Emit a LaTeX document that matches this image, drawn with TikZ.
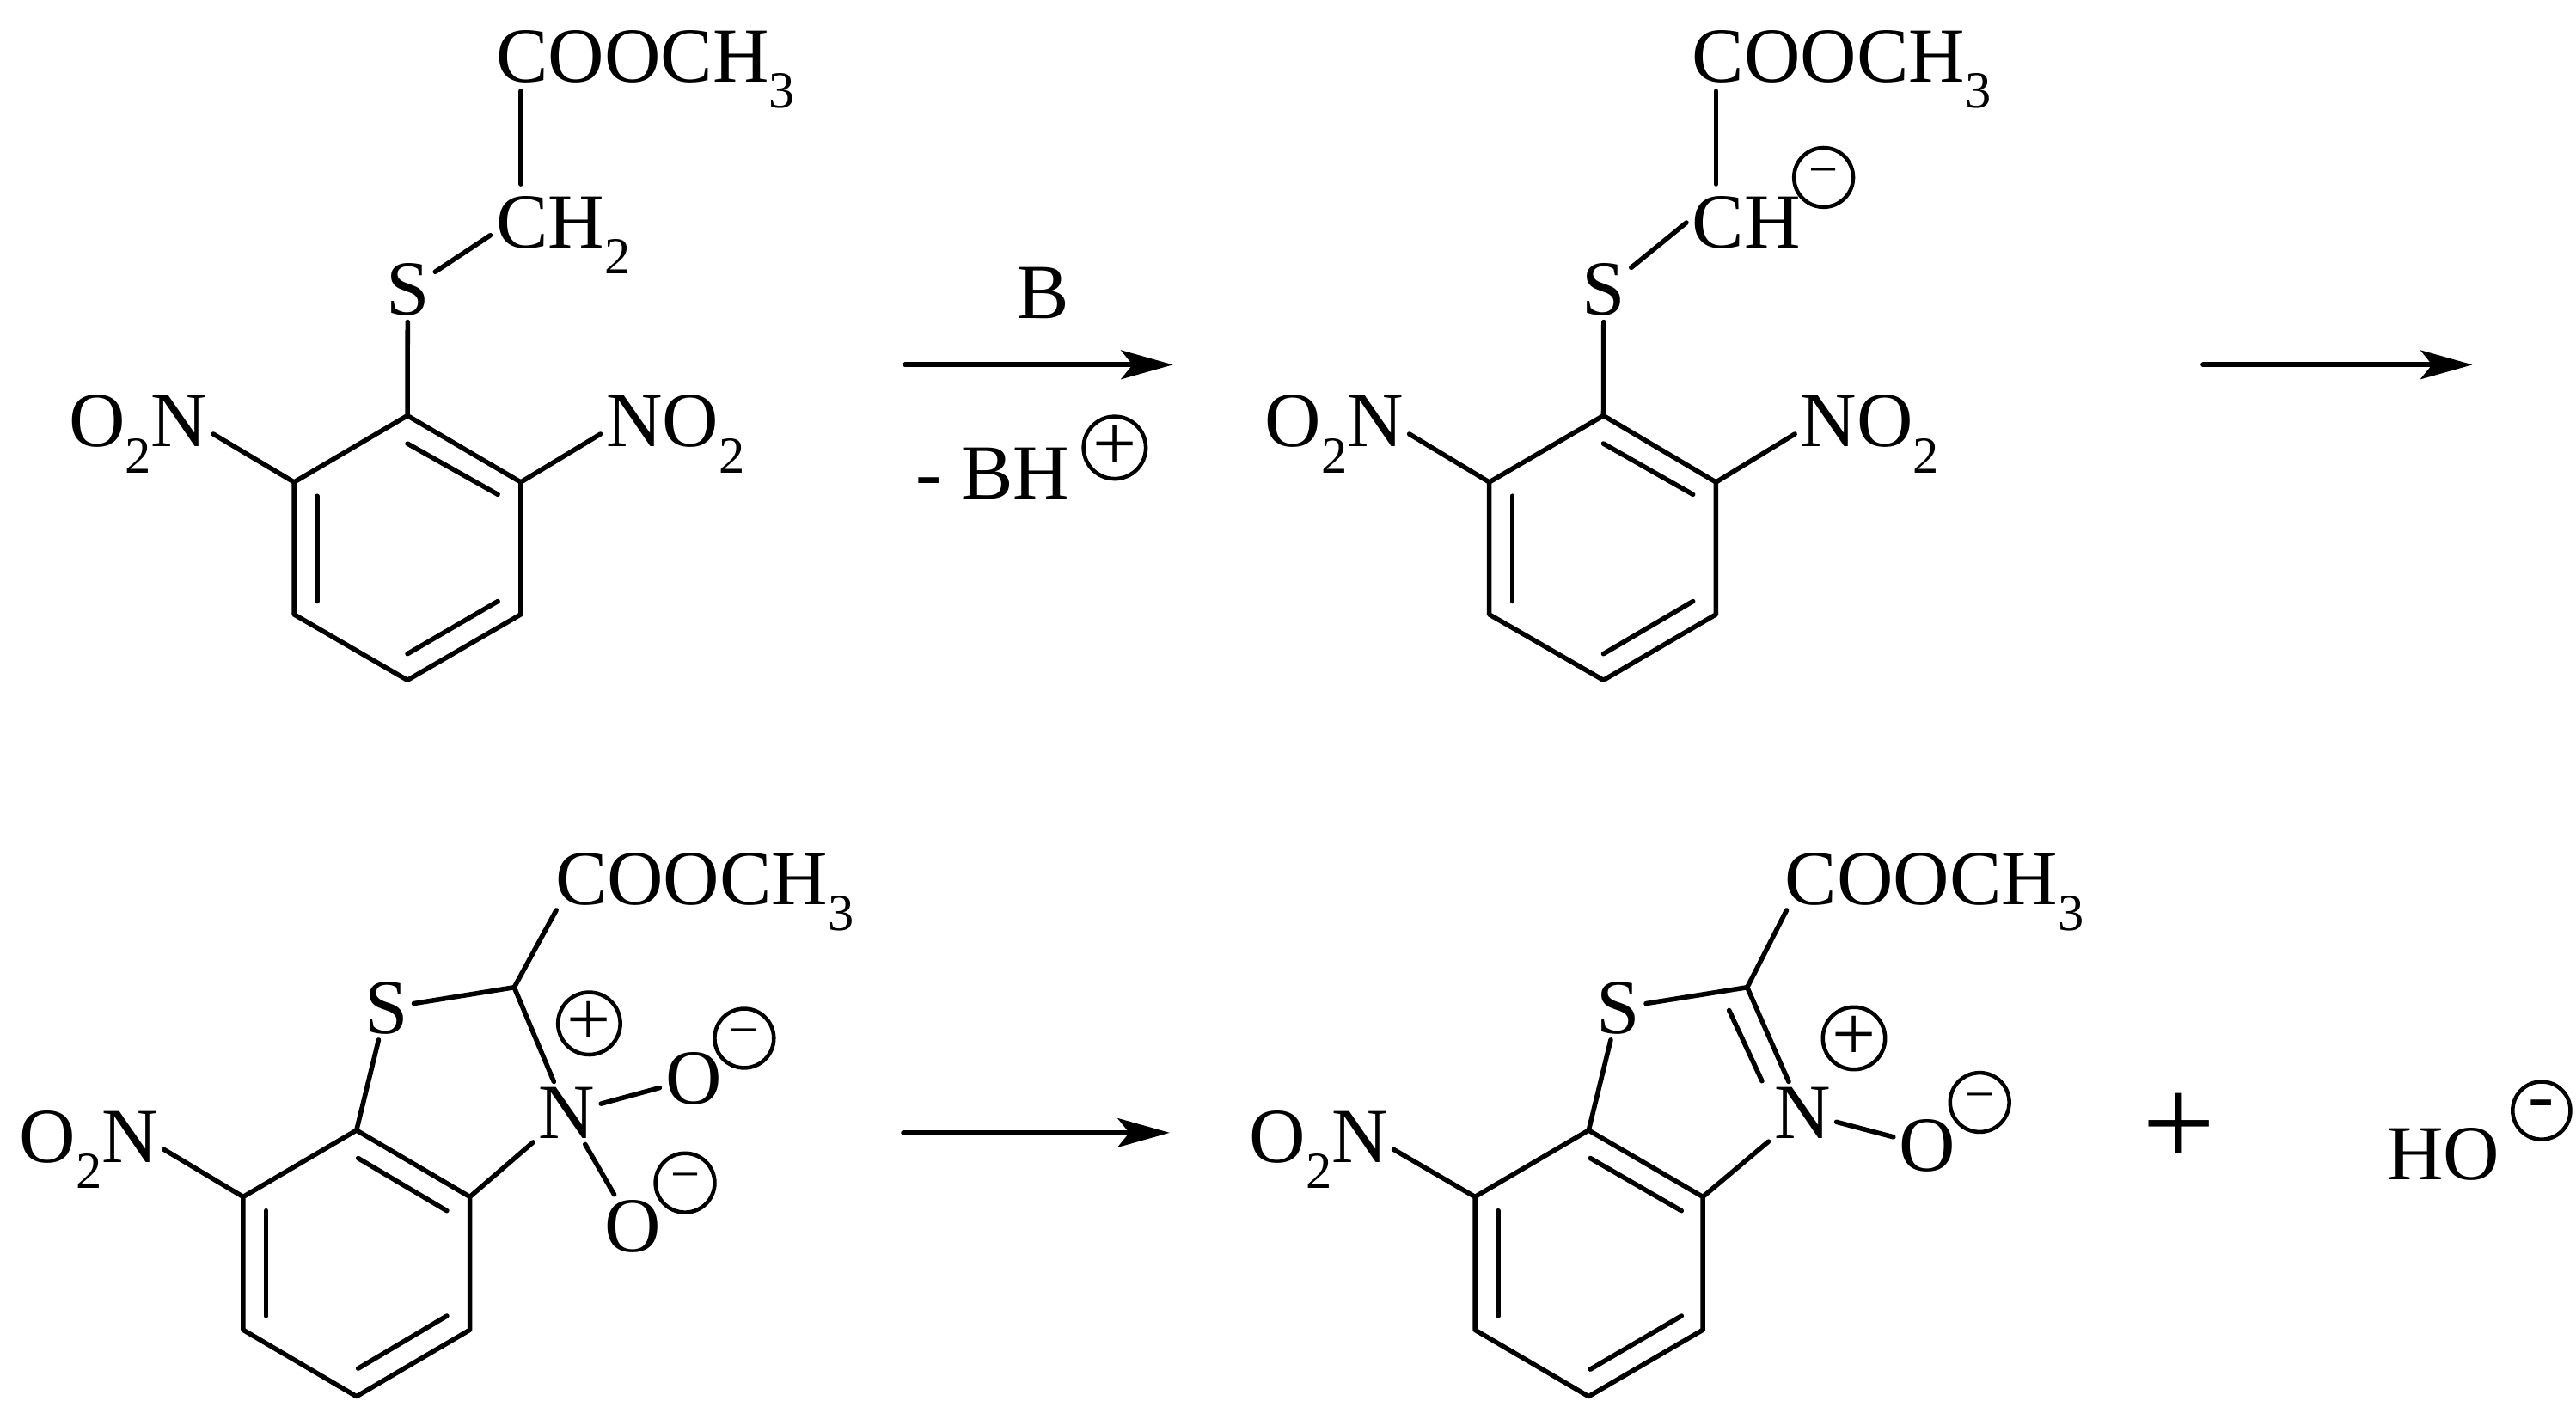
\documentclass[tikz,border=0pt]{standalone}
\usepackage{fontspec}
\setmainfont{Liberation Serif}
\usetikzlibrary{arrows.meta}
\newcommand{\lowdigit}[1]{\raisebox{-9pt}{\fontsize{18}{20}\selectfont #1}}
\tikzset{
  atom/.style={anchor=base west,inner sep=0pt,outer sep=2pt,xshift=-2pt,font=\fontsize{27}{30}\selectfont},
  chg/.style={circle,draw,line width=1.35pt,inner sep=0pt,minimum size=20.5pt,font=\fontsize{27}{30}\selectfont},
  chgm/.style={chg,font=\fontsize{18}{20}\selectfont},
  bond/.style={line width=1.65pt},
  react/.style={line width=1.8pt,-{Stealth[length=18pt,width=10pt,inset=4pt]}}
}
\begin{document}
\begin{tikzpicture}[line cap=round,line join=round,x=0.02cm,y=-0.02cm]
\useasboundingbox (0,0) rectangle (1568,852.3);
% first molecule
\coordinate (a1) at (248,253);
\coordinate (a2) at (317,293.5);
\coordinate (a3) at (317,374);
\coordinate (a4) at (248,414);
\coordinate (a5) at (179,374);
\coordinate (a6) at (179,293.5);
\coordinate (acoo) at (317,55.5);
\coordinate (ach) at (317,112);
\node[atom] (coa) at (302,50) {COOCH\lowdigit{3}};
\node[atom] (cha) at (302,151) {CH\lowdigit{2}};
\node[atom] (sa) at (235,192) {S};
\node[atom] (lna) at (42,272) {O\lowdigit{2}N};
\node[atom] (rna) at (369,272) {NO\lowdigit{2}};
\draw [bond] (a1)--(a2)--(a3)--(a4)--(a5)--(a6)--cycle;
\draw [bond] (248,270)--(303,301);
\draw [bond] (303,366)--(248,398);
\draw [bond] (193,302)--(193,366);
\draw [bond] (a1)--(sa);
\draw [bond] (sa)--(cha.west);
\draw [bond] (ach)--(acoo);
\draw [bond] (a6)--(lna.east);
\draw [bond] (a2)--(rna.west);
% first arrow
\coordinate (r1a) at (551,222);
\coordinate (r1b) at (714,222);
\draw [react] (r1a)--(r1b);
\node[atom] (ba) at (619,194) {B};
\node[atom] (bh) at (557.5,303.5) {- BH};
\node[chg] (bhp) at (678.5,272.5) {+};
% second molecule
\coordinate (b1) at (976,253);
\coordinate (b2) at (1044.5,293.5);
\coordinate (b3) at (1044.5,374);
\coordinate (b4) at (976,414);
\coordinate (b5) at (906.5,374);
\coordinate (b6) at (906.5,293.5);
\coordinate (bcoo) at (1044.5,55.5);
\coordinate (bch) at (1044.5,112);
\node[atom] (cob) at (1030,50) {COOCH\lowdigit{3}};
\node[atom] (chb) at (1030,151) {CH};
\node[chgm] (chbm) at (1110,108) {−};
\node[atom] (sb) at (963,192) {S};
\node[atom] (lnb) at (770,272) {O\lowdigit{2}N};
\node[atom] (rnb) at (1096,272) {NO\lowdigit{2}};
\draw [bond] (b1)--(b2)--(b3)--(b4)--(b5)--(b6)--cycle;
\draw [bond] (976,270)--(1030.5,301);
\draw [bond] (1030.5,366)--(976,398);
\draw [bond] (920.5,302)--(920.5,366);
\draw [bond] (b1)--(sb);
\draw [bond] (sb)--(chb.west);
\draw [bond] (bch)--(bcoo);
\draw [bond] (b6)--(lnb.east);
\draw [bond] (b2)--(rnb.west);
% second arrow
\coordinate (r2a) at (1341,222);
\coordinate (r2b) at (1505,222);
\draw [react] (r2a)--(r2b);
% third molecule
\coordinate (c1) at (217,688);
\coordinate (c2) at (286,728.5);
\coordinate (c3) at (286,809.5);
\coordinate (c4) at (217,850);
\coordinate (c5) at (148,809.5);
\coordinate (c6) at (148,728.5);
\coordinate (c7) at (313,601);
\coordinate (ccoo) at (338.6,554);
\node[atom] (coc) at (338,550.5) {COOCH\lowdigit{3}};
\node[atom] (sc) at (222,629) {S};
\node[atom] (nc) at (328,693) {N};
\node[atom] (oc) at (405,672) {O};
\node[atom] (od) at (368,762) {O};
\node[atom] (lnc) at (12,707.5) {O\lowdigit{2}N};
\node[chg] (ncp) at (358.6,623) {+};
\node[chgm] (ocm) at (453,632) {−};
\node[chgm] (odm) at (417,720) {−};
\draw [bond] (c1)--(c2)--(c3)--(c4)--(c5)--(c6)--cycle;
\draw [bond] (218,705)--(272,737);
\draw [bond] (272,801)--(218,833);
\draw [bond] (162,737)--(162,801);
\draw [bond] (c1)--(sc);
\draw [bond] (sc)--(c7);
\draw [bond] (c7)--(nc);
\draw [bond] (c7)--(ccoo);
\draw [bond] (c2)--(nc);
\draw [bond] (nc)--(oc);
\draw [bond] (nc)--(od);
\draw [bond] (c6)--(lnc.east);
% third arrow
\coordinate (r3a) at (550,689.5);
\coordinate (r3b) at (712,689.5);
\draw [react] (r3a)--(r3b);
% fourth molecule
\coordinate (d1) at (967,688);
\coordinate (d2) at (1036.5,728.5);
\coordinate (d3) at (1036.5,809.5);
\coordinate (d4) at (967,850);
\coordinate (d5) at (897.8,809.5);
\coordinate (d6) at (897.8,728.5);
\coordinate (d7) at (1063.5,601);
\coordinate (dcoo) at (1087.5,554);
\node[atom] (cod) at (1086.5,550.5) {COOCH\lowdigit{3}};
\node[atom] (sd) at (972,629) {S};
\node[atom] (nd) at (1080,693) {N};
\node[atom] (oe) at (1156,713) {O};
\node[atom] (lnd) at (760.5,707.5) {O\lowdigit{2}N};
\node[chg] (ndp) at (1128.5,632) {+};
\node[chgm] (oem) at (1205,671) {−};
\draw [bond] (d1)--(d2)--(d3)--(d4)--(d5)--(d6)--cycle;
\draw [bond] (968,705)--(1023.5,737);
\draw [bond] (1023.5,801)--(968,833.5);
\draw [bond] (912,737)--(912,801);
\draw [bond] (d1)--(sd);
\draw [bond] (sd)--(d7);
\draw [bond] (d7)--(nd);
\draw [bond] (1052.5,615)--(1072.5,658);
\draw [bond] (d7)--(dcoo);
\draw [bond] (d2)--(nd);
\draw [bond] (nd)--(oe);
\draw [bond] (d6)--(lnd.east);
% products on the right
\node[atom,font=\fontsize{45}{48}\selectfont] (pls) at (1304,710) {+};
\node[atom] (ho) at (1453,718) {HO};
\node[chg,minimum size=20pt] (hom) at (1547,676) {-};
\end{tikzpicture}
\end{document}
